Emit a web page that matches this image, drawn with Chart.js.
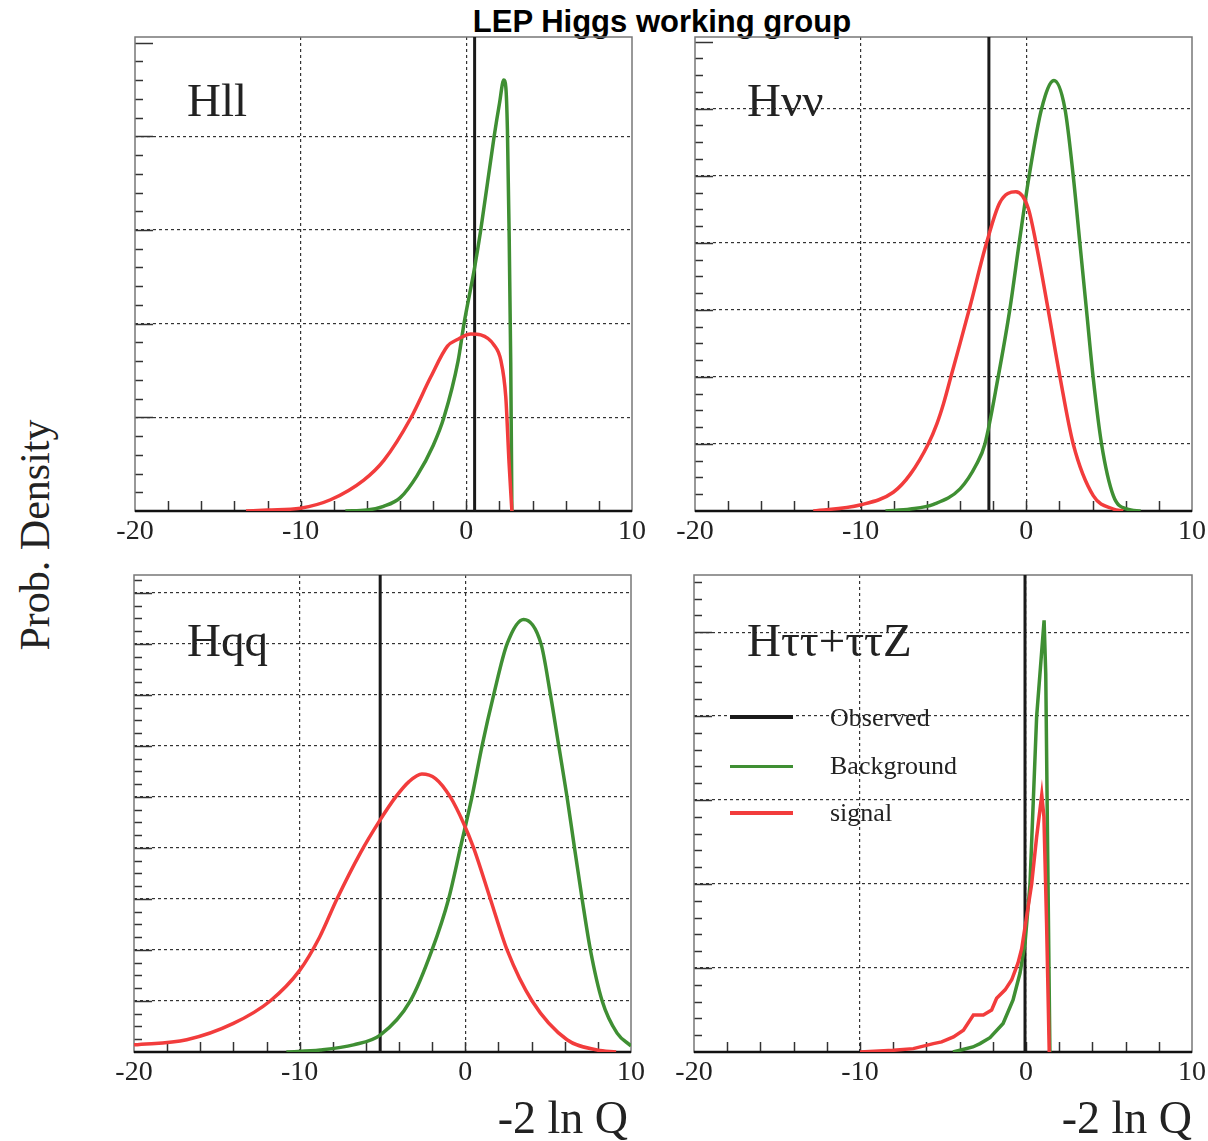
<!DOCTYPE html>
<html>
<head>
<meta charset="utf-8">
<script src="https://cdn.jsdelivr.net/npm/chart.js@4.4.0/dist/chart.umd.min.js"></script>
<style>
  body { margin: 0; background: #fff; width: 1208px; height: 1141px; position: relative; overflow: hidden;
         font-family: 'Liberation Serif', serif; color: #222; }
  canvas { position: absolute; }
  .t { position: absolute; white-space: nowrap; line-height: 1; }
  .lg { position: absolute; height: 4px; }
</style>
</head>
<body>
<div class="t" style="left:662px; top:6px; transform:translateX(-50%); font-family:'Liberation Sans',Arial,sans-serif; font-weight:bold; font-size:31px; color:#000;">LEP Higgs working group</div>
<div class="t" style="left:35px; top:535px; transform:translate(-50%,-50%) rotate(-90deg); font-size:42px;">Prob. Density</div>

<canvas id="cHll"></canvas>
<canvas id="cHvv"></canvas>
<canvas id="cHqq"></canvas>
<canvas id="cHtt"></canvas>

<div class="t" style="left:187px; top:77px; font-size:47px;">Hll</div>
<div class="t" style="left:747px; top:77px; font-size:47px;">Hνν</div>
<div class="t" style="left:187px; top:617px; font-size:47px;">Hqq</div>
<div class="t" style="left:747px; top:617px; font-size:47px;">Hττ+ττZ</div>

<div class="lg" style="left:730px; top:715px; width:63px; background:#1a1a1a;"></div>
<div class="lg" style="left:730px; top:765px; width:63px; height:3px; background:#3f8f33;"></div>
<div class="lg" style="left:730px; top:811px; width:63px; background:#f23c3c;"></div>
<div class="t" style="left:830px; top:705px; font-size:26px;">Observed</div>
<div class="t" style="left:830px; top:753px; font-size:26px;">Background</div>
<div class="t" style="left:830px; top:800px; font-size:26px;">signal</div>

<div class="t" style="right:580px; top:1095px; font-size:46px;">-2 ln Q</div>
<div class="t" style="right:16px; top:1095px; font-size:46px;">-2 ln Q</div>

<script>
// Hll
const hllBgX  = [-7.3, -6, -5, -4, -3, -2, -1.35, -0.5, -0.14, 0.5, 0.87, 1.68, 2.0, 2.26, 2.38, 2.48, 2.58, 2.68, 2.75];
const hllBgY  = [0, 0.01, 0.05, 0.14, 0.37, 0.7, 1.0, 1.6, 2.0, 2.6, 3.0, 4.0, 4.35, 4.6, 4.53, 4.07, 3.0, 1.58, 0];
const hllSigX = [-13.3, -12, -10.02, -8.2, -6.19, -4.98, -3.36, -2.15, -1.14, -0.54, 0.27, 0.87, 1.68, 2.08, 2.38, 2.58, 2.75];
const hllSigY = [0, 0.01, 0.03, 0.12, 0.33, 0.54, 0.99, 1.43, 1.76, 1.83, 1.89, 1.88, 1.77, 1.61, 1.22, 0.51, 0];
const hllObs = 0.5;

// Hvv
const hvvBgX  = [-8.5, -7, -5.6, -4, -3, -2.5, -1.7, -1.0, -0.43, 0.17, 0.92, 1.67, 2.33, 2.83, 3.23, 3.63, 4.03, 4.54, 5.25, 6.05, 6.9];
const hvvBgY  = [0, 0.03, 0.1, 0.33, 0.7, 1, 2, 3, 4, 5, 6, 6.42, 6, 5, 4, 3, 2, 1, 0.23, 0.03, 0];
const hvvSigX = [-12.86, -10.04, -8.03, -7.0, -5.92, -5.4, -5.0, -4.5, -4.0, -3.4, -2.4, -1.6, -0.63, 0.11, 0.58, 1.32, 2.03, 2.83, 4.04, 5.25, 5.85];
const hvvSigY = [0, 0.09, 0.28, 0.55, 1, 1.3, 1.6, 2.05, 2.5, 3.05, 4, 4.6, 4.76, 4.52, 4, 3, 2, 1, 0.23, 0.03, 0];
const hvvObs = -2.26;

// Hqq
const hqqBgX  = [-10.8, -8.76, -6.75, -5.14, -3.32, -2.01, -1.01, -0.3, 0.4, 1.01, 1.71, 2.52, 3.52, 4.57, 5.14, 5.64, 6.14, 6.59, 7.05, 7.55, 8.26, 9.16, 10];
const hqqBgY  = [0, 0.04, 0.14, 0.33, 1, 2, 3, 4, 5, 6, 7, 8, 8.48, 8, 7, 6, 5, 4, 3, 2, 1, 0.37, 0.12];
const hqqSigX = [-20, -16.82, -14.0, -11.78, -10.0, -8.8, -7.75, -6.34, -5.14, -4.2, -3.4, -2.62, -1.8, -0.91, -0.1, 0.5, 1.51, 2.52, 4.03, 6.14, 7.96, 9.1];
const hqqSigY = [0.14, 0.24, 0.56, 1, 1.6, 2.25, 3, 3.9, 4.55, 5.0, 5.3, 5.45, 5.36, 5, 4.48, 4, 3, 2, 1, 0.24, 0.04, 0];
const hqqObs = -5.14;

// Htt+ttZ
const httBgX  = [-4.4, -3.8, -3.2, -2.77, -2.17, -1.38, -0.78, -0.36, -0.06, 0.24, 0.64, 1.09, 1.19, 1.31, 1.44];
const httBgY  = [0, 0.03, 0.06, 0.1, 0.17, 0.34, 0.62, 0.94, 1.29, 2.0, 3.99, 5.14, 4.5, 2.3, 0];
const httSigX = [-10, -8, -6.79, -5.58, -5.08, -4.37, -3.77, -3.17, -2.57, -2.07, -1.77, -1.26, -0.86, -0.48, -0.26, 0.34, 0.64, 0.95, 1.08, 1.24, 1.40];
const httSigY = [0, 0.02, 0.04, 0.1, 0.12, 0.18, 0.26, 0.44, 0.44, 0.5, 0.64, 0.74, 0.86, 1.06, 1.23, 2.0, 2.56, 3.06, 2.8, 1.53, 0];
const httObs = -0.06;

const xTickLabels = [-20, -10, 0, 10];

const GREEN = '#3f8f33';
const RED = '#f23c3c';

// 枠・目盛り（内向き）を描くプラグイン
const framePlugin = {
  id: 'frame',
  beforeDatasetsDraw(chart, args, opts) {
    const { ctx, chartArea: a, scales: { x, y } } = chart;
    ctx.save();
    ctx.strokeStyle = '#333';
    ctx.lineWidth = 1.5;
    const step = 1 / opts.nSub;
    for (let k = 1; k * step <= y.max + 1e-9; k++) {
      const py = Math.round(y.getPixelForValue(k * step)) + 0.5;
      const major = k % opts.nSub === 0;
      ctx.beginPath();
      ctx.moveTo(a.left, py);
      ctx.lineTo(a.left + (major ? 18 : 8), py);
      ctx.stroke();
    }
    for (let v = -18; v < 10; v += 2) {
      const px = Math.round(x.getPixelForValue(v)) + 0.5;
      ctx.beginPath();
      ctx.moveTo(px, a.bottom);
      ctx.lineTo(px, a.bottom - 10);
      ctx.stroke();
    }
    ctx.strokeStyle = '#777';
    ctx.lineWidth = 1.5;
    ctx.strokeRect(a.left, a.top, a.right - a.left, a.bottom - a.top);
    ctx.strokeStyle = '#111';
    ctx.lineWidth = 2.5;
    ctx.beginPath();
    ctx.moveTo(a.left, a.bottom);
    ctx.lineTo(a.right, a.bottom);
    ctx.stroke();
    ctx.restore();
  }
};

function pts(xs, ys) {
  return xs.map((v, i) => ({ x: v, y: ys[i] }));
}

function makePanel(id, rect, yMax, nSub, bgX, bgY, sigX, sigY, obs, smooth) {
  const padL = 40, padR = 40, padT = 10, axisH = 45;
  const canvas = document.getElementById(id);
  canvas.width = rect.w + padL + padR;
  canvas.height = rect.h + padT + axisH;
  canvas.style.left = (rect.left - padL) + 'px';
  canvas.style.top = (rect.top - padT) + 'px';

  const lineOpts = smooth ? { cubicInterpolationMode: 'monotone' } : { tension: 0 };

  new Chart(canvas.getContext('2d'), {
    type: 'scatter',
    data: {
      datasets: [
        { label: 'signal', data: pts(sigX, sigY), showLine: true, borderColor: RED, borderWidth: 3.5, pointRadius: 0, ...lineOpts },
        { label: 'Background', data: pts(bgX, bgY), showLine: true, borderColor: GREEN, borderWidth: 3.5, pointRadius: 0, ...lineOpts },
        { label: 'Observed', data: [{ x: obs, y: 0 }, { x: obs, y: yMax }], showLine: true, borderColor: '#1a1a1a', borderWidth: 3, pointRadius: 0 }
      ]
    },
    options: {
      responsive: false,
      animation: false,
      devicePixelRatio: 1,
      layout: { padding: { left: padL, right: padR, top: padT, bottom: 0 } },
      plugins: { legend: { display: false }, tooltip: { enabled: false }, frame: { nSub } },
      scales: {
        x: {
          type: 'linear', min: -20, max: 10,
          afterFit: s => { s.height = axisH; },
          afterBuildTicks: s => { s.ticks = xTickLabels.map(v => ({ value: v })); },
          ticks: { color: '#222', padding: 4, maxRotation: 0, autoSkip: false,
                   font: { family: 'Liberation Serif', size: 28 } },
          grid: { drawTicks: false, lineWidth: 1.2,
                  color: c => (c.tick && (c.tick.value === -10 || c.tick.value === 0)) ? '#333' : 'rgba(0,0,0,0)' },
          border: { display: false, dash: [3, 3] }
        },
        y: {
          type: 'linear', min: 0, max: yMax,
          afterFit: s => { s.width = 0; },
          ticks: { display: false, stepSize: 1 },
          grid: { drawTicks: false, lineWidth: 1.2,
                  color: c => (c.tick && c.tick.value > 0 && Math.abs(c.tick.value - Math.round(c.tick.value)) < 1e-6) ? '#333' : 'rgba(0,0,0,0)' },
          border: { display: false, dash: [3, 3] }
        }
      }
    },
    plugins: [framePlugin]
  });
}

makePanel('cHll', { left: 135, top: 37, w: 497, h: 474 }, 5.06, 5, hllBgX, hllBgY, hllSigX, hllSigY, hllObs, true);
makePanel('cHvv', { left: 695, top: 37, w: 497, h: 474 }, 7.07, 4, hvvBgX, hvvBgY, hvvSigX, hvvSigY, hvvObs, true);
makePanel('cHqq', { left: 134, top: 575, w: 497, h: 477 }, 9.35, 4, hqqBgX, hqqBgY, hqqSigX, hqqSigY, hqqObs, true);
makePanel('cHtt', { left: 694, top: 575, w: 498, h: 477 }, 5.68, 5, httBgX, httBgY, httSigX, httSigY, httObs, false);
</script>
</body>
</html>
